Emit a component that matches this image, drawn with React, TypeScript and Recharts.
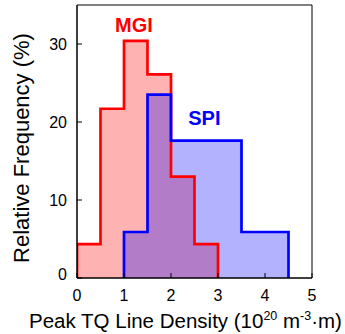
import React from 'react';
import { ComposedChart, Area, XAxis, YAxis, ReferenceArea, Scatter } from 'recharts';

const binStarts = [0, 0.5, 1, 1.5, 2, 2.5, 3, 3.5, 4, 4.5];
const binWidth = 0.5;
const mgiValues = [4.35, 21.7, 30.4, 26.1, 13.0, 4.35, 0, 0, 0, 0];
const spiValues = [0, 0, 5.9, 23.5, 17.6, 17.6, 17.6, 5.9, 5.9, 0];
const xTicks = [0, 1, 2, 3, 4, 5];
const yTicks = [0, 10, 20, 30];
const mgiLabel = [{ x: 1.21, y: 31.5, name: 'MGI' }];
const spiLabel = [{ x: 2.71, y: 19.6, name: 'SPI' }];

const FONT = '"Liberation Sans", Arial, Helvetica, sans-serif';

function stepData(values: number[]) {
  const idx = values.map((v, i) => (v > 0 ? i : -1)).filter((i) => i >= 0);
  const first = idx[0];
  const last = idx[idx.length - 1];
  const pts: { x: number; y: number }[] = [{ x: binStarts[first], y: 0 }];
  for (let i = first; i <= last; i++) pts.push({ x: binStarts[i], y: values[i] });
  pts.push({ x: binStarts[last] + binWidth, y: 0 });
  return pts;
}

const mgiData = stepData(mgiValues);
const spiData = stepData(spiValues);

const XTick = (props: any) => {
  const { x, y, payload } = props;
  return (
    <g>
      <line x1={x} y1={y} x2={x} y2={y - 5} stroke="#000" strokeWidth={1} />
      <text x={x} y={y + 23} textAnchor="middle" fontSize={16} fontFamily={FONT} fill="#000">
        {payload.value}
      </text>
    </g>
  );
};

const YTick = (props: any) => {
  const { x, y, payload } = props;
  const shift = payload.value === 0 ? -4 : 0;
  return (
    <g>
      <line x1={x} y1={y} x2={x + 5} y2={y} stroke="#000" strokeWidth={1} />
      <text x={x - 10} y={y + 6 + shift} textAnchor="end" fontSize={16} fontFamily={FONT} fill="#000">
        {payload.value}
      </text>
    </g>
  );
};

const makeLabelShape = (color: string) => (props: any) => {
  const { cx, cy, payload } = props;
  return (
    <text x={cx} y={cy} textAnchor="middle" fontSize={20} fontWeight="bold" fontFamily={FONT} fill={color}>
      {payload.name}
    </text>
  );
};

export default function App() {
  return (
    <div style={{ position: 'absolute', left: 0, top: 0 }}>
      <ComposedChart width={345} height={334} margin={{ top: 5, right: 33, bottom: 0, left: 0 }}>
        <XAxis
          type="number"
          dataKey="x"
          domain={[0, 5]}
          ticks={xTicks}
          allowDataOverflow
          tickSize={0}
          tickMargin={0}
          tickLine={false}
          tick={<XTick />}
          height={56}
          axisLine={{ stroke: '#000' }}
          label={() => (
            <text x={185.5} y={327.5} textAnchor="middle" fontSize={20.5} fontFamily={FONT} fill="#000">
              Peak TQ Line Density (10
              <tspan fontSize={12.5} dy={-8}>20</tspan>
              <tspan dy={8}> m</tspan>
              <tspan fontSize={12.5} dy={-8}>-3</tspan>
              <tspan dy={8}>·m)</tspan>
            </text>
          )}
        />
        <YAxis
          type="number"
          dataKey="y"
          domain={[0, 35]}
          ticks={yTicks}
          allowDataOverflow
          width={77}
          tickSize={0}
          tickMargin={0}
          tickLine={false}
          tick={<YTick />}
          axisLine={{ stroke: '#000' }}
          label={() => (
            <text
              x={28.5}
              y={148}
              transform="rotate(-90, 28.5, 148)"
              textAnchor="middle"
              fontSize={22}
              fontFamily={FONT}
              fill="#000"
            >
              Relative Frequency (%)
            </text>
          )}
        />
        <Area data={mgiData} dataKey="y" type="stepAfter" stroke="none" fill="#ff0000" fillOpacity={0.3} isAnimationActive={false} />
        <Area data={spiData} dataKey="y" type="stepAfter" stroke="none" fill="#0000ff" fillOpacity={0.3} isAnimationActive={false} />
        <Area data={mgiData} dataKey="y" type="stepAfter" stroke="#ff0000" strokeWidth={2.7} fill="none" isAnimationActive={false} />
        <Area data={spiData} dataKey="y" type="stepAfter" stroke="#0000ff" strokeWidth={2.7} fill="none" isAnimationActive={false} />
        <Scatter data={mgiLabel} dataKey="y" shape={makeLabelShape('#ff0000')} isAnimationActive={false} />
        <Scatter data={spiLabel} dataKey="y" shape={makeLabelShape('#0000ff')} isAnimationActive={false} />
        <ReferenceArea x1={0} x2={5} y1={0} y2={35} fill="none" stroke="#000" strokeWidth={1} ifOverflow="visible" />
      </ComposedChart>
    </div>
  );
}
